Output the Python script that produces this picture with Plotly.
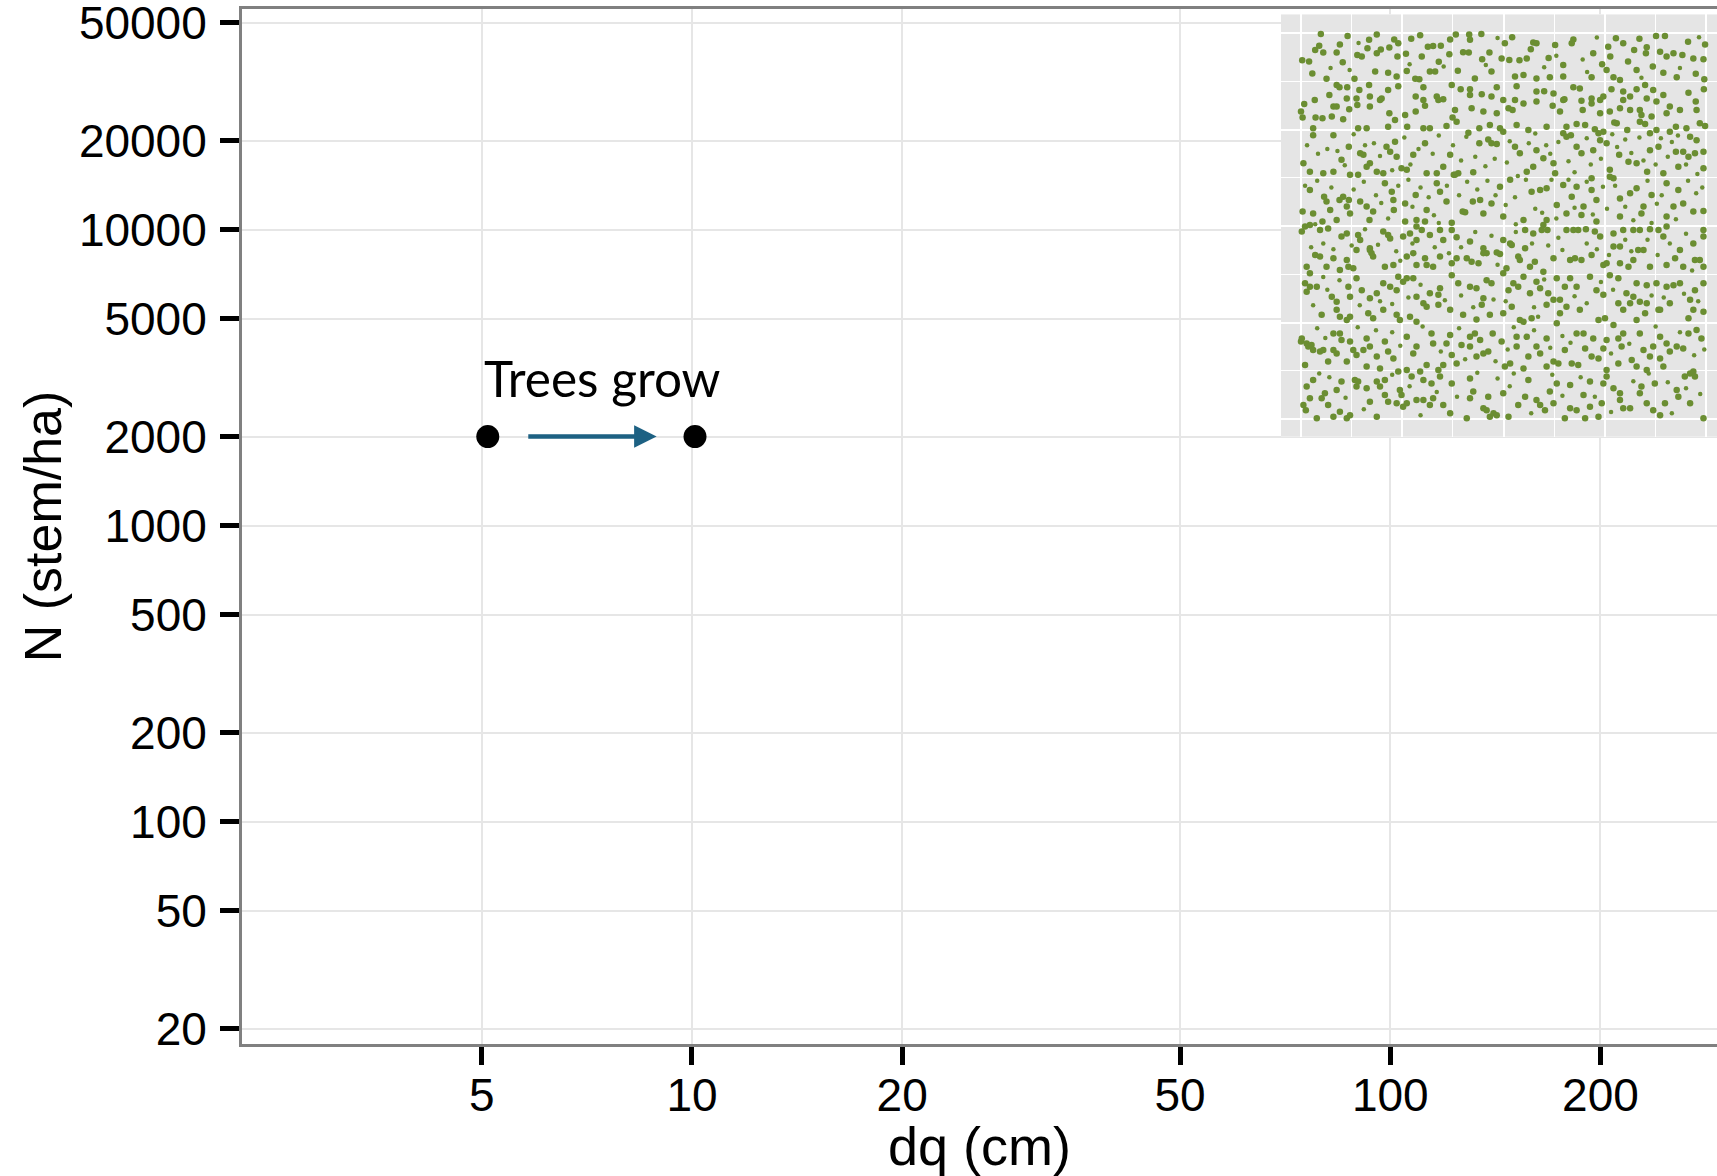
import plotly.graph_objects as go
import math

# ---------------- data ----------------
dq_ticks = [5, 10, 20, 50, 100, 200]
n_ticks = [20, 50, 100, 200, 500, 1000, 2000, 5000, 10000, 20000, 50000]

stand_dq = [5.1, 10.1]
stand_n = [2000, 2000]

arrow_from_dq = 5.8
arrow_to_dq = 8.9
arrow_n = 2000

label_text = "Trees grow"
label_dq = 7.45
label_n = 3155

x_title = "dq (cm)"
y_title = "N (stem/ha)"

# stem map of the inset (metres, 100 m x 100 m plot)
stems_large = [
    (4.9,99.8),(11.5,99.3),(18.7,99.7),(23.0,98.4),(29.4,99.5),(38.2,99.7),(41.5,99.7),(44.5,99.8),(52.1,99.0),(57.3,97.6),
    (67.2,98.4),(77.7,98.7),(83.5,98.6),(87.6,99.3),(89.8,99.3),(95.5,97.8),(99.7,97.1),(0.3,93.0),(2.0,92.7),(3.5,95.7),
    (4.5,96.8),(5.5,95.0),(9.6,97.1),(8.8,95.0),(10.3,92.5),(13.9,94.4),(15.0,94.0),(16.4,96.1),(16.8,98.3),(18.7,94.8),
    (19.7,95.8),(21.8,96.3),(23.8,94.0),(24.0,97.4),(25.9,94.7),(27.2,98.6),(29.8,94.0),(31.3,96.5),(32.6,96.7),(34.0,92.6),
    (34.5,96.8),(36.6,94.6),(36.8,98.4),(40.0,95.1),(41.4,95.0),(41.7,98.3),(44.7,93.3),(46.5,95.0),(49.5,93.5),(50.3,97.4),
    (51.4,93.1),(53.9,93.0),(55.7,93.5),(56.7,95.9),(58.1,97.4),(61.1,93.6),(62.7,97.0),(64.7,91.8),(66.8,97.4),(72.1,94.8),
    (74.3,92.0),(75.8,96.5),(76.3,94.0),(79.5,97.4),(80.7,92.7),(82.2,95.7),(85.1,94.8),(85.3,96.4),(86.8,91.4),(88.6,95.2),
    (90.2,94.0),(91.9,94.8),(94.1,94.4),(96.8,93.5),(99.3,93.3),(2.8,89.6),(6.3,88.2),(13.2,88.2),(18.3,90.1),(21.5,89.8),
    (23.6,88.8),(26.1,90.2),(28.2,88.2),(29.2,88.1),(31.8,90.1),(33.1,90.1),(38.7,90.3),(42.9,88.3),(47.0,90.1),(52.8,88.8),
    (54.9,89.2),(58.1,88.3),(61.4,88.6),(64.7,88.8),(71.7,88.6),(75.4,90.5),(77.1,88.6),(78.7,87.9),(82.8,90.5),(89.4,89.8),
    (92.7,88.6),(97.4,89.5),(99.5,88.1),
    (8.8,86.6),(9.5,86.0),(11.4,86.0),(14.4,85.3),(16.8,86.6),(21.5,85.3),(24.0,86.3),(30.2,86.0),(37.2,86.6),(39.4,85.5),
    (41.7,85.5),(48.3,86.0),(53.2,86.3),(58.1,84.9),(60.0,85.0),(62.3,84.4),(67.2,86.0),(68.8,85.7),(71.7,83.1),(76.6,85.5),
    (79.5,84.9),(82.8,85.5),(84.9,86.6),(86.9,85.3),(89.4,84.0),(95.6,84.6),(99.4,85.5),(7.0,84.0),(11.3,83.1),(13.7,83.1),
    (17.0,83.6),(19.9,83.1),(28.3,83.6),(30.2,82.7),(33.5,83.6),(35.1,82.9),(41.7,84.0),(44.6,84.2),(47.0,83.6),(49.9,82.7),
    (52.8,82.7),(65.0,82.9),(69.2,82.5),(73.8,82.7),(74.6,83.6),(79.5,82.7),(81.2,83.6),(85.3,83.1),(87.7,82.3),(91.0,81.0),
    (97.4,82.3),(3.4,82.7),(0.8,81.7),(0.0,79.7),(0.4,78.2),(3.6,78.2),(5.3,78.0),(8.0,81.0),(8.8,81.0),(11.9,80.3),
    (13.9,81.4),(17.0,81.0),(19.5,82.7),(21.8,79.3),(23.2,77.5),(25.7,78.8),(28.3,79.7),(30.6,81.2),(33.9,82.7),(38.0,80.1),
    (37.4,78.2),(42.1,80.6),(45.0,79.7),(48.3,79.3),(51.2,80.6),(52.2,80.1),(54.9,81.8),(58.1,82.3),(62.1,81.2),(63.9,79.7),
    (64.7,82.7),(69.5,80.1),(71.7,81.8),(73.8,79.3),(76.2,79.7),(78.7,80.6),(81.2,80.1),(83.6,80.1),(86.5,78.4),(90.2,79.3),
    (93.5,80.1),(97.6,80.1),(3.0,75.4),(7.6,78.4),(10.4,77.7),(14.1,75.4),(16.2,75.4),(21.5,75.8),(26.2,75.8),(30.2,75.4),
    (31.8,75.4),(35.9,76.0),(38.4,77.1),(41.3,74.2),(44.0,75.4),(46.6,76.2),(49.1,75.4),(53.2,76.2),(56.1,74.9),(60.6,75.8),
    (65.5,75.8),(68.0,76.5),(70.1,76.2),(72.5,75.1),(74.6,74.5),(77.9,76.7),(80.5,74.9),(83.6,77.1),(84.9,76.5),(87.7,74.9),
    (91.0,74.5),(95.1,75.4),(98.4,76.7),(99.7,76.0),(92.5,75.8),(77.3,76.9),(84.0,78.8),
    (3.0,73.6),(0.6,66.3),(2.2,64.1),(5.5,63.7),(8.0,73.6),(8.0,64.1),(10.0,67.2),(11.8,70.6),(12.1,63.3),(14.1,63.3),
    (14.6,68.9),(15.4,68.5),(16.2,65.4),(17.0,66.3),(18.7,64.1),(20.3,63.7),(21.1,70.6),(22.0,69.3),(23.2,71.9),(23.6,68.0),
    (24.8,65.0),(26.1,64.6),(27.7,68.5),(30.6,71.5),(31.0,63.7),(33.5,63.7),(35.1,65.4),(36.8,68.5),(38.0,63.3),(38.8,63.7),
    (42.5,64.0),(44.0,71.5),(46.2,72.5),(47.0,71.5),(48.3,71.3),(49.9,74.5),(52.8,70.6),(54.0,68.9),(55.7,64.1),(57.3,65.4),
    (58.1,69.7),(59.8,67.6),(62.3,66.3),(62.7,63.7),(64.7,74.1),(65.5,73.2),(66.6,73.6),(68.0,70.6),(69.2,68.9),(72.1,69.7),
    (73.4,74.1),(73.8,72.3),(75.4,71.5),(76.2,64.6),(78.5,68.5),(80.8,66.7),(82.8,66.3),(86.1,69.7),(86.1,74.1),(88.2,70.6),
    (89.4,63.7),(92.5,69.3),(94.3,69.3),(95.6,68.0),(97.2,68.9),(99.3,69.3),(99.3,65.0),(96.0,73.2),(97.6,72.3),(93.1,65.4),
    (85.4,64.1),(77.1,62.4),(71.7,62.4),
    (2.2,59.4),(5.7,57.6),(6.3,56.4),(9.5,56.8),(10.4,57.6),(11.8,56.8),(11.3,55.1),(14.6,56.4),(16.2,55.1),(16.9,51.6),
    (20.7,61.1),(22.4,58.9),(22.8,56.8),(22.9,54.2),(25.7,55.9),(25.7,51.2),(28.3,58.1),(28.5,51.6),(30.6,51.2),(33.5,61.1),
    (34.3,58.9),(37.2,50.9),(37.7,63.3),(39.9,53.8),(42.4,56.4),(44.2,56.8),(49.1,60.2),(51.6,62.0),(54.9,51.6),(56.9,58.9),
    (59.0,59.4),(60.6,59.8),(63.1,55.5),(64.7,60.7),(66.8,57.6),(68.0,60.2),(69.7,55.1),(71.7,59.4),(72.9,56.8),(76.2,62.8),
    (78.7,57.2),(81.2,58.5),(82.8,59.8),(84.5,55.1),(86.5,58.1),(90.2,61.1),(91.9,55.1),(93.1,59.4),(94.3,55.9),(96.8,53.8),
    (99.3,53.9),(90.2,52.5),(84.0,53.3),(78.7,52.5),(72.9,51.2),(69.2,52.9),(65.5,53.3),(60.6,51.6),(49.9,52.5),(47.0,55.9),
    (45.0,53.3),(40.5,53.6),(35.9,56.4),(31.0,54.2),(17.8,53.8),(0.4,53.8),(3.0,53.3),(7.2,54.2),(12.1,53.3),(5.3,51.2),
    (8.8,51.6),
    (0.2,48.6),(1.0,49.9),(2.2,50.3),(4.7,49.0),(6.7,49.4),(10.0,47.3),(11.3,48.1),(14.1,47.7),(14.6,46.4),(17.0,43.8),
    (17.4,43.0),(20.3,48.6),(21.5,47.7),(22.0,46.8),(25.2,47.3),(26.9,48.1),(28.5,49.9),(28.5,46.4),(29.8,49.0),(31.8,47.7),
    (34.3,49.0),(35.1,46.4),(37.2,49.0),(38.4,47.1),(41.7,46.0),(45.0,44.3),(45.8,43.0),(49.9,46.4),(51.6,45.5),(52.0,45.1),
    (55.3,44.3),(55.3,49.0),(57.3,48.1),(59.4,49.0),(59.8,50.3),(60.8,49.0),(65.5,49.0),(67.2,49.0),(68.4,49.0),(70.3,49.2),
    (72.5,48.6),(73.8,47.3),(77.1,48.1),(79.5,49.0),(82.0,49.0),(83.6,49.0),(86.1,49.2),(88.2,49.0),(90.2,49.9),(89.4,47.3),
    (96.8,45.5),(93.5,43.8),(99.3,49.0),(99.3,47.3),(3.5,42.5),(4.7,42.1),(8.0,41.7),(11.3,41.2),(13.7,43.8),(17.0,44.3),
    (17.8,42.1),(20.7,39.5),(22.8,39.9),(26.1,42.1),(27.7,43.0),(28.5,39.9),(30.6,41.7),(31.0,39.9),(32.6,39.5),(34.3,42.1),
    (37.2,40.4),(38.4,41.7),(40.9,41.7),(42.1,40.8),(43.8,40.4),(45.0,43.0),(48.3,43.2),(49.1,42.8),(50.7,39.1),(53.6,42.1),
    (54.0,41.2),(56.5,39.5),(57.7,40.8),(59.8,38.2),(62.3,41.7),(66.4,41.2),(67.6,41.7),(69.2,41.2),(71.7,42.5),(74.6,39.9),
    (75.4,40.4),(78.7,40.4),(80.8,39.5),(82.0,41.2),(83.2,43.8),(84.5,43.8),(86.1,39.5),(90.2,39.9),(92.3,41.7),(97.2,41.2),
    (98.4,41.2),(99.3,39.5),(94.3,39.5),(77.1,44.7),(78.7,44.7),(1.4,39.5),(2.2,37.8),(6.3,39.5),(9.6,38.6),(11.7,39.5),
    (12.9,39.1),
    (1.0,35.2),(1.4,33.0),(2.2,34.3),(3.9,34.3),(7.6,31.7),(8.8,30.4),(8.8,28.3),(11.7,34.3),(12.1,31.7),(13.7,36.5),
    (15.0,33.4),(17.0,31.3),(18.7,32.6),(20.3,35.2),(22.0,34.3),(23.6,33.4),(24.0,36.9),(25.2,35.6),(26.1,36.5),(27.7,36.5),
    (28.5,31.7),(30.2,30.0),(31.8,32.6),(33.9,32.2),(34.3,33.9),(37.2,37.3),(38.8,35.2),(41.7,34.3),(43.3,33.9),(45.0,31.3),
    (44.6,29.6),(45.8,36.0),(47.0,35.2),(49.9,37.8),(51.2,33.4),(52.4,35.2),(53.6,34.3),(54.9,36.9),(56.5,32.6),(58.1,35.6),
    (59.0,33.9),(61.0,32.6),(63.1,36.5),(63.9,30.9),(65.1,34.3),(66.4,36.5),(68.0,34.3),(71.3,36.9),(72.9,33.4),(74.6,32.2),
    (76.2,37.3),(78.3,36.5),(80.3,32.6),(82.0,31.7),(82.8,35.2),(85.3,34.7),(87.7,35.2),(90.2,34.3),(91.9,34.7),(93.5,35.2),
    (99.3,35.2),(97.2,33.4),(78.3,30.0),(81.2,30.0),(83.6,30.4),(85.3,30.0),(88.2,28.3),(91.0,30.0),(96.0,30.9),(99.3,27.8),
    (5.1,27.0),(9.6,26.5),(11.3,25.7),(12.1,26.5),(16.6,27.4),(17.8,26.1),(20.3,28.3),(23.6,27.0),(24.4,25.7),(26.9,26.5),
    (28.5,25.2),(31.0,29.1),(33.9,29.6),(36.8,28.3),(40.0,27.0),(43.3,25.8),(46.6,27.0),(49.9,27.4),(52.0,29.1),(54.0,25.7),
    (54.9,25.2),(56.9,26.1),(60.6,29.6),(62.3,30.9),(63.9,27.4),(65.5,29.1),(68.8,28.3),(73.4,25.7),(75.0,26.1),(79.5,28.3),
    (82.8,25.7),(84.9,27.4),(88.6,28.3),(95.6,26.1),(96.8,28.3),
    (0.0,20.1),(0.2,20.9),(1.4,19.6),(1.8,18.8),(2.6,19.2),(3.0,17.9),(1.0,14.0),(4.7,17.5),(5.5,17.9),(8.0,22.2),
    (8.8,17.0),(9.6,22.2),(10.0,20.5),(12.1,20.1),(12.9,17.9),(15.4,17.9),(16.2,20.9),(16.2,13.6),(19.5,13.1),(21.5,17.5),
    (24.0,12.3),(26.1,21.3),(26.1,12.7),(27.7,17.0),(28.5,18.8),(31.0,14.0),(32.2,22.2),(32.6,19.6),(33.9,12.7),(35.9,19.6),
    (36.8,21.8),(37.2,16.6),(39.6,19.2),(41.7,21.3),(41.7,18.8),(42.9,22.2),(44.2,20.5),(45.0,17.0),(47.3,22.2),(49.5,20.1),
    (50.3,13.6),(51.6,14.4),(53.2,21.3),(55.7,21.3),(56.1,16.2),(58.1,18.8),(59.0,17.0),(60.6,20.9),(62.3,14.9),(63.1,24.8),
    (65.1,17.9),(66.8,14.4),(68.0,22.2),(69.7,22.2),(70.1,18.3),(71.7,16.2),(72.1,20.9),(73.4,15.7),(74.6,18.3),(75.4,20.5),
    (77.1,24.4),(78.3,20.9),(79.1,18.8),(79.5,22.2),(81.6,15.3),(83.6,22.2),(84.5,17.9),(86.1,16.2),(86.9,18.8),(88.6,21.3),
    (90.2,19.6),(92.7,18.8),(94.3,18.3),(95.6,22.2),(97.6,23.1),(98.8,20.9),(96.0,11.8),(91.0,17.5),(88.6,15.7),(89.4,13.6),
    (85.3,12.7),(82.8,13.6),(78.3,14.4),(75.4,12.7),(68.4,14.0),(63.5,14.4),(60.6,13.6),(54.9,13.1),(53.2,18.8),(46.2,17.5),
    (43.3,16.2),(38.4,14.4),(35.1,14.0),(29.4,12.3),(22.8,15.7),(18.7,16.2),(11.3,14.9),(6.7,14.9),(13.7,16.6),(8.0,17.9),
    (17.0,18.8),(20.7,20.1),
    (1.4,8.4),(0.6,3.6),(1.2,2.3),(2.2,5.4),(3.9,0.2),(5.1,5.4),(6.7,3.6),(8.0,0.6),(9.6,1.9),(11.3,0.2),
    (12.1,1.0),(13.3,10.1),(13.7,8.4),(14.1,9.7),(16.2,8.0),(17.0,4.5),(18.7,0.6),(19.5,8.4),(20.7,6.2),(21.5,4.5),
    (23.6,4.1),(24.8,6.2),(25.2,3.2),(26.1,4.1),(28.5,4.9),(30.2,4.9),(31.8,3.6),(32.6,5.4),(35.1,3.6),(36.8,1.5),
    (40.9,0.2),(41.7,5.4),(42.5,7.1),(45.0,2.8),(45.8,2.3),(46.6,0.6),(47.5,1.5),(48.3,1.0),(51.2,0.6),(53.6,3.6),
    (55.3,5.8),(58.1,4.9),(59.0,3.6),(60.2,2.3),(62.3,4.1),(65.1,0.2),(66.4,2.8),(68.0,2.3),(69.7,6.2),(70.1,0.2),
    (71.3,3.2),(73.4,0.6),(74.2,4.1),(74.6,9.2),(75.4,11.0),(77.1,8.0),(78.7,6.7),(79.5,2.8),(81.2,2.8),(83.6,6.7),
    (84.0,8.4),(85.3,4.1),(87.3,9.2),(88.6,1.0),(89.8,4.1),(93.1,5.8),(94.7,11.0),(96.8,12.3),(97.2,11.0),(99.3,0.2),
    (96.0,4.1),(92.7,7.5),(86.9,2.3),(78.7,4.9),(71.3,9.7),(66.4,8.8),(63.1,9.2),(61.4,7.1),(56.1,10.1),(49.9,6.7),
    (46.2,5.8),(41.7,10.5),(37.2,9.2),(34.3,11.0),(32.2,9.2),(30.2,10.1),(27.3,11.0),(24.4,7.5),(20.7,10.1),(18.7,9.7),
    (10.0,9.7),(8.8,7.5),(5.9,6.7),(3.0,10.1),
]

stems_small = [
    (7.3,91.0),(12.0,90.5),(35.2,91.4),(45.6,91.8),(60.0,91.2),(69.5,93.2),(70.6,90.0),(84.0,88.5),(93.5,91.0),(98.2,99.0),
    (48.5,98.8),(26.8,92.0),(14.2,97.5),(63.0,94.2),(73.0,98.9),
    (6.5,70.0),(4.2,68.8),(9.0,69.5),(13.0,73.8),(18.0,71.5),(19.5,68.2),(25.5,73.0),(27.0,66.0),(29.0,70.0),(32.5,68.8),
    (34.0,73.5),(37.5,71.0),(39.5,67.0),(40.8,73.2),(43.0,68.0),(45.5,65.5),(47.8,67.5),(50.8,66.5),(51.5,72.0),(53.5,63.0),
    (56.2,71.5),(57.8,74.0),(60.5,71.0),(61.5,68.8),(63.5,71.8),(66.0,66.8),(67.5,64.0),(70.5,72.8),(71.5,66.0),(74.0,67.5),
    (76.8,73.8),(78.0,70.5),(80.0,72.5),(81.5,69.0),(83.5,73.0),(84.5,67.0),(87.5,66.0),(88.8,72.8),(90.5,68.0),(91.5,71.8),
    (93.0,73.5),(95.0,66.0),(97.8,63.5),(1.5,71.0),(10.8,65.8),(15.8,71.0),(22.5,64.5),
    (1.0,60.5),(4.0,61.8),(7.5,60.0),(13.0,59.5),(15.5,61.5),(18.5,58.0),(19.8,56.0),(24.0,60.5),(26.5,62.0),(27.5,55.0),
    (29.5,60.0),(31.5,57.5),(32.8,52.8),(36.0,60.5),(39.0,58.0),(41.0,61.5),(43.5,59.5),(46.0,61.8),(48.0,58.0),(50.5,55.5),
    (52.8,57.5),(55.5,62.0),(57.8,54.5),(61.8,62.0),(63.0,52.0),(66.0,62.0),(67.5,54.8),(70.5,61.5),(74.5,60.2),(75.5,54.5),
    (77.5,60.5),(80.0,55.0),(82.0,51.5),(85.5,61.8),(87.8,55.8),(89.0,58.0),(92.5,51.8),(95.5,61.8),(97.5,58.5),(99.0,60.0),
    (3.5,50.5),(21.5,52.0),(34.0,50.8),(53.0,50.5),(59.5,53.5),(72.0,53.0),(86.5,50.8),
    (5.5,45.5),(8.0,44.0),(12.5,45.0),(15.8,49.2),(19.0,45.2),(23.5,43.5),(24.5,41.0),(27.5,45.5),(33.0,44.5),(36.5,43.0),
    (39.5,44.5),(43.0,48.5),(47.0,47.5),(48.5,40.0),(53.0,48.5),(57.0,45.5),(61.0,45.0),(63.5,47.0),(64.5,43.8),(70.5,45.5),
    (73.0,44.0),(76.0,42.5),(80.0,46.5),(81.5,43.5),(85.5,46.5),(88.0,42.5),(91.0,45.5),(95.0,48.0),(96.5,38.5),(2.5,44.5),
    (5.5,36.8),(6.5,33.5),(9.5,36.0),(14.5,29.5),(19.5,30.5),(22.5,29.8),(26.5,31.5),(29.5,34.8),(35.5,30.8),(39.5,32.0),
    (42.5,29.0),(47.5,31.0),(50.5,30.5),(57.5,29.0),(60.0,36.2),(67.5,31.8),(70.5,30.0),(74.0,35.5),(77.0,33.5),(86.5,32.0),
    (89.5,31.5),(94.5,32.5),(98.0,30.5),(3.0,29.5),(58.5,26.5),
    (4.0,23.5),(6.0,21.0),(14.0,23.8),(18.5,23.0),(22.5,22.5),(24.5,19.0),(30.0,24.0),(34.5,17.5),(39.0,23.5),(40.5,15.5),
    (48.0,15.0),(51.0,18.0),(52.5,23.8),(57.5,23.0),(61.5,18.5),(64.5,21.5),(66.5,19.8),(76.5,17.0),(81.0,19.5),(87.5,24.0),
    (93.5,22.5),(97.0,16.5),(99.5,18.0),
    (4.5,11.8),(7.0,10.8),(11.0,5.5),(15.5,2.5),(22.5,11.5),(26.8,8.5),(29.5,1.0),(33.5,7.0),(38.5,5.8),(43.5,12.0),
    (48.5,10.5),(51.5,8.5),(52.5,11.8),(56.8,1.5),(62.0,11.5),(64.5,6.0),(69.0,10.8),(72.5,5.8),(76.5,1.8),(82.0,9.8),
    (85.8,11.8),(90.5,9.5),(91.5,1.5),(95.0,8.0),(98.5,6.5),
]

# inset coordinate window (metres)
inset_x_range = [-4.93, 102.64]
inset_y_range = [-4.59, 104.93]

# ---------------- figure ----------------
FONT = "Liberation Sans, Arial, Helvetica, sans-serif"
W, H = 1717, 1176
ML, MR, MT, MB = 242, 0, 9, 132
PW = W - ML - MR
PH = H - MT - MB

def px_to_paper_x(px):
    return (px - ML) / PW

def px_to_paper_y(py):
    return (H - MB - py) / PH

fig = go.Figure()

# main chart points
fig.add_trace(go.Scatter(
    x=stand_dq, y=stand_n, mode="markers",
    marker=dict(color="black", size=23, line=dict(width=0)),
    hoverinfo="skip", showlegend=False, xaxis="x", yaxis="y",
))

# inset stems
lx, ly = zip(*stems_large)
sx, sy = zip(*stems_small)
fig.add_trace(go.Scatter(
    x=list(lx), y=list(ly), mode="markers",
    marker=dict(color="#6B8E32", size=6.5, line=dict(width=0)),
    hoverinfo="skip", showlegend=False, xaxis="x2", yaxis="y2",
))
fig.add_trace(go.Scatter(
    x=list(sx), y=list(sy), mode="markers",
    marker=dict(color="#6B8E32", size=4.5, line=dict(width=0)),
    hoverinfo="skip", showlegend=False, xaxis="x2", yaxis="y2",
))

x_range = [0.3556, 2.4679]
y_range = [1.2490, 4.7456]

fig.update_layout(
    width=W, height=H,
    margin=dict(l=ML, r=MR, t=MT, b=MB, pad=0),
    paper_bgcolor="white", plot_bgcolor="white",
    showlegend=False,
    font=dict(family=FONT, color="black"),
    xaxis=dict(
        type="log", range=x_range,
        tickmode="array", tickvals=dq_ticks, ticktext=[str(v) for v in dq_ticks],
        ticks="outside", ticklen=18, tickwidth=4.5, tickcolor="black",
        ticklabelstandoff=-9, ticklabeloverflow="allow",
        tickfont=dict(family=FONT, size=46, color="black"),
        showline=True, linecolor="#808080", linewidth=3, mirror=True,
        showgrid=True, gridcolor="#E6E6E6", gridwidth=2,
        zeroline=False, automargin=False,
        title=dict(text=x_title, font=dict(family=FONT, size=54, color="black"), standoff=15),
        domain=[0, 1], anchor="y",
    ),
    yaxis=dict(
        type="log", range=y_range,
        tickmode="array", tickvals=n_ticks, ticktext=[str(v) for v in n_ticks],
        ticks="outside", ticklen=19, tickwidth=4.5, tickcolor="black",
        ticklabelstandoff=4, ticklabeloverflow="allow",
        tickfont=dict(family=FONT, size=46, color="black"),
        showline=True, linecolor="#808080", linewidth=3, mirror=False,
        showgrid=True, gridcolor="#E6E6E6", gridwidth=2,
        zeroline=False, automargin=False,
        title=dict(text=y_title, font=dict(family=FONT, size=52, color="black"), standoff=1),
        domain=[0, 1], anchor="x",
    ),
    xaxis2=dict(
        domain=[px_to_paper_x(1281), 1.0], anchor="y2",
        range=inset_x_range, showticklabels=False, ticks="",
        tick0=0, dtick=25,
        showgrid=True, gridcolor="white", gridwidth=2,
        minor=dict(dtick=12.5, tick0=0, showgrid=True, gridcolor="white", gridwidth=1),
        showline=False, zeroline=False, fixedrange=True,
    ),
    yaxis2=dict(
        domain=[px_to_paper_y(436.7), px_to_paper_y(14.3)], anchor="x2",
        range=inset_y_range, showticklabels=False, ticks="",
        tick0=0, dtick=25,
        showgrid=True, gridcolor="white", gridwidth=2,
        minor=dict(dtick=12.5, tick0=0, showgrid=True, gridcolor="white", gridwidth=1),
        showline=False, zeroline=False, fixedrange=True,
    ),
    shapes=[dict(
        type="rect", xref="x2", yref="y2",
        x0=inset_x_range[0], x1=inset_x_range[1],
        y0=inset_y_range[0], y1=inset_y_range[1],
        fillcolor="#E5E5E5", line=dict(width=0), layer="below",
    )],
    annotations=[
        dict(
            x=math.log10(arrow_to_dq), y=math.log10(arrow_n),
            ax=math.log10(arrow_from_dq), ay=math.log10(arrow_n),
            xref="x", yref="y", axref="x", ayref="y",
            text="", showarrow=True, arrowhead=2, arrowsize=1.0,
            arrowwidth=4.5, arrowcolor="#1D6183", standoff=0, startstandoff=0,
        ),
        dict(
            x=math.log10(label_dq), y=math.log10(label_n),
            xref="x", yref="y", text=label_text, showarrow=False,
            xanchor="center", yanchor="middle",
            font=dict(family="Lato, Open Sans, sans-serif", size=49.5, color="black"),
        ),
    ],
)

fig.write_html("out.html")
